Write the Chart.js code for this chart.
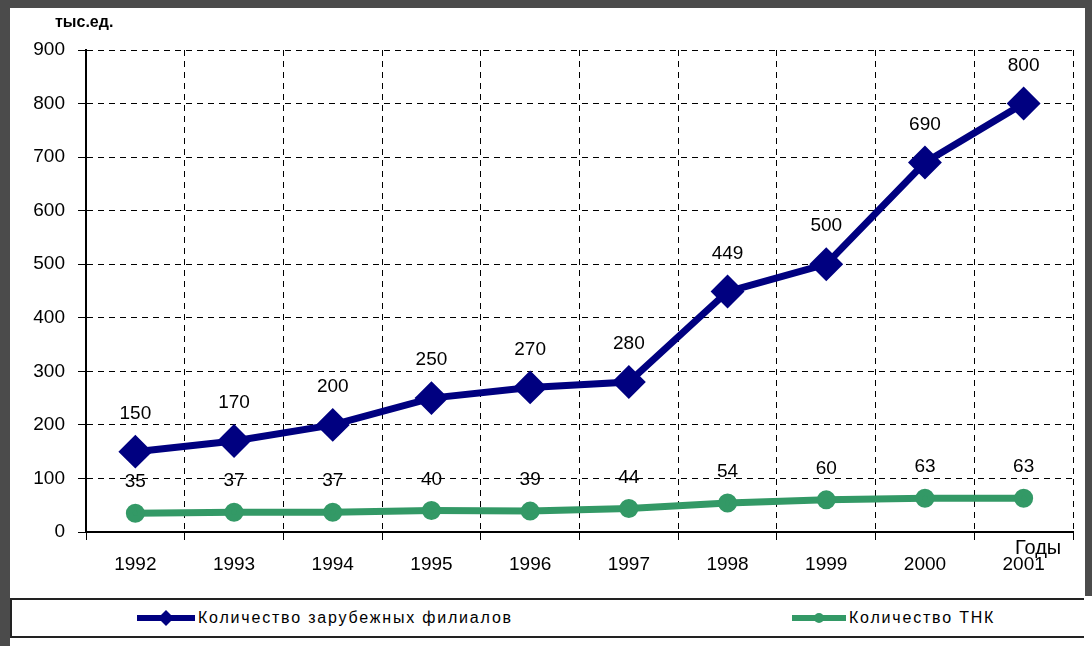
<!DOCTYPE html>
<html>
<head>
<meta charset="utf-8">
<script src="https://cdn.jsdelivr.net/npm/chart.js@4"></script>
<style>
  html, body { margin: 0; padding: 0; }
  body { width: 1092px; height: 646px; background: #4b4b4b; position: relative; overflow: hidden; font-family: 'Liberation Sans', Arial, sans-serif; }
  #plot { position: absolute; left: 10px; top: 8px; width: 1075px; height: 590px; background: #fff; }
  #leyenda { position: absolute; left: 10px; top: 596px; width: 1082px; height: 50px; background: #fff; }
  #leyenda .caja { position: absolute; left: 0; top: 2px; width: 1072px; height: 36px; border-top: 2px solid #222; border-bottom: 2px solid #222; border-left: 2px solid #222; }
  .item { position: absolute; top: 8px; font-size: 16px; letter-spacing: 1.8px; color: #000; display: flex; align-items: center; }
  .item canvas { margin-right: 1px; }
</style>
</head>
<body>
<div id="plot"><canvas id="filiales"></canvas></div>
<div id="leyenda">
  <div class="caja">
    <div class="item" style="left:123px"><canvas id="muestra1" width="62" height="20"></canvas>Количество зарубежных филиалов</div>
    <div class="item" style="left:778px"><canvas id="muestra2" width="58" height="20"></canvas>Количество ТНК</div>
  </div>
</div>
<script>
const anhos = ['1992', '1993', '1994', '1995', '1996', '1997', '1998', '1999', '2000', '2001'];
const filiales = [150, 170, 200, 250, 270, 280, 449, 500, 690, 800];
const tnk = [35, 37, 37, 40, 39, 44, 54, 60, 63, 63];
const marcasY = [0, 100, 200, 300, 400, 500, 600, 700, 800, 900];

const colorFiliales = '#000080';
const colorTnk = '#339966';
const fuente = "'Liberation Sans', Arial, sans-serif";

// etiquetas de valores sobre cada punto
const etiquetas = {
  id: 'etiquetas',
  afterDatasetsDraw(chart) {
    const ctx = chart.ctx;
    const desplazamientos = [38, 31];
    ctx.save();
    ctx.font = '19px ' + fuente;
    ctx.fillStyle = '#000';
    ctx.textAlign = 'center';
    ctx.textBaseline = 'middle';
    chart.data.datasets.forEach((ds, i) => {
      chart.getDatasetMeta(i).data.forEach((punto, j) => {
        ctx.fillText(ds.data[j], punto.x, punto.y - desplazamientos[i]);
      });
    });
    // titulos de ejes
    ctx.font = 'bold 16px ' + fuente;
    ctx.textAlign = 'left';
    ctx.fillText('тыс.ед.', 45, 15);
    ctx.font = '20px ' + fuente;
    ctx.fillText('Годы', 1005, 540);
    ctx.restore();
  }
};

const ctxFiliales = document.getElementById('filiales');

new Chart(ctxFiliales, {
  type: 'line',
  data: {
    labels: anhos,
    datasets: [{
      label: 'Количество зарубежных филиалов',
      data: filiales,
      borderColor: colorFiliales,
      backgroundColor: colorFiliales,
      borderWidth: 7,
      pointStyle: 'rectRot',
      pointRadius: 12,
      pointHoverRadius: 12,
      tension: 0
    }, {
      label: 'Количество ТНК',
      data: tnk,
      borderColor: colorTnk,
      backgroundColor: colorTnk,
      borderWidth: 7,
      pointStyle: 'circle',
      pointRadius: 6,
      pointHoverRadius: 6,
      tension: 0
    }]
  },
  options: {
    responsive: true,
    maintainAspectRatio: false,
    animation: false,
    layout: {
      autoPadding: false,
      padding: { top: 42, right: 12, left: 0, bottom: 0 }
    },
    plugins: {
      legend: { display: false },
      tooltip: { enabled: false }
    },
    scales: {
      x: {
        offset: true,
        grid: {
          offset: true,
          color: '#000',
          lineWidth: 1,
          tickLength: 8,
          tickColor: '#000'
        },
        border: { display: true, color: '#000', width: 2, dash: [6, 5] },
        ticks: {
          color: '#000',
          font: { size: 19, family: fuente },
          padding: 13,
          maxRotation: 0
        },
        afterFit: (escala) => { escala.height = 66; }
      },
      y: {
        min: 0,
        max: 900,
        afterBuildTicks: (escala) => { escala.ticks = marcasY.map((v) => ({ value: v })); },
        grid: {
          color: '#000',
          lineWidth: 1,
          tickLength: 8,
          tickColor: '#000'
        },
        border: { display: true, color: '#000', width: 2, dash: [6, 5] },
        ticks: {
          color: '#000',
          font: { size: 19, family: fuente },
          padding: 13
        },
        afterFit: (escala) => { escala.width = 76; }
      }
    }
  },
  plugins: [etiquetas]
});

// muestras de leyenda
const dibujarMuestra = (id, color, forma, radio) => {
  const c = document.getElementById(id).getContext('2d');
  const w = c.canvas.width;
  c.strokeStyle = color;
  c.fillStyle = color;
  c.lineWidth = 6;
  c.beginPath();
  c.moveTo(2, 10);
  c.lineTo(w - 2, 10);
  c.stroke();
  c.beginPath();
  if (forma === 'rombo') {
    c.moveTo(w / 2, 10 - radio);
    c.lineTo(w / 2 + radio, 10);
    c.lineTo(w / 2, 10 + radio);
    c.lineTo(w / 2 - radio, 10);
  } else {
    c.arc(w / 2, 10, radio, 0, Math.PI * 2);
  }
  c.fill();
};
dibujarMuestra('muestra1', colorFiliales, 'rombo', 8);
dibujarMuestra('muestra2', colorTnk, 'circulo', 5);
</script>
</body>
</html>
